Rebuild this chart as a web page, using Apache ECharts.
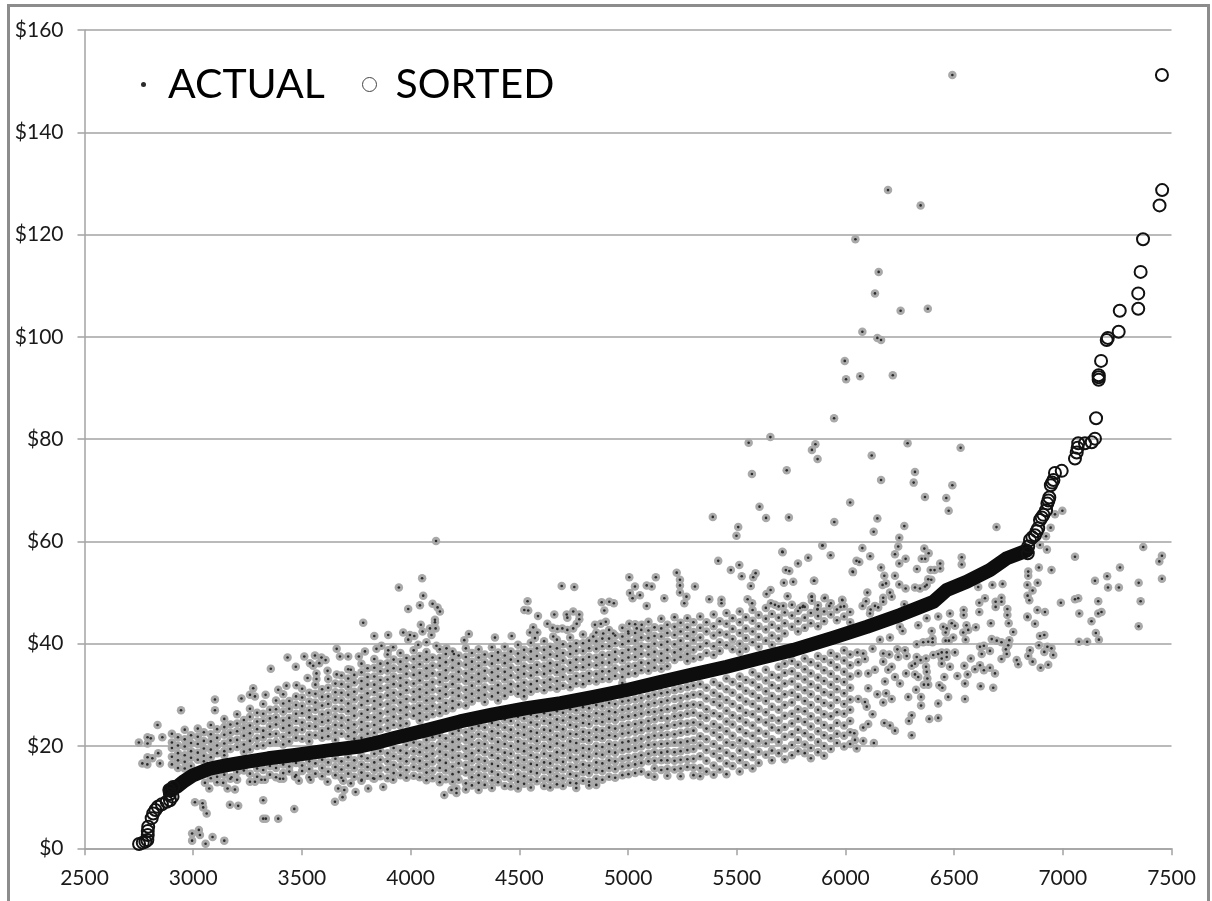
<!DOCTYPE html>
<html>
<head>
<meta charset="utf-8">
<title>Actual vs sorted</title>
<script src="https://cdn.jsdelivr.net/npm/echarts@6/dist/echarts.min.js"></script>
<style>
html, body { margin: 0; padding: 0; background: #fff; overflow: hidden; }
#chart { width: 1212px; height: 901px; }
</style>
</head>
<body>
<div id="chart"></div>
<script>
// values

// dense part of the cloud, one x per column, the y values for that column below
const cloudX = [2902,2930,2961,2990,3021,3049,3081,3110,3143,3171,3202,3233,3261,3294,3322,3353,3381,3414,3442,3473,3501,3534,3562,3593,3621,3654,3682,3713,3741,3774,3802,3833,3861,3894,3922,3953,3981,4014,4042,4073,4101,4134,4162,4193,4221,4254,4282,4313,4341,4374,4402,4433,4461,4494,4522,4553,4581,4614,4642,4673,4701,4734,4762,4793,4821,4854,4882,4913,4941,4974,5002,5033,5061,5094,5122,5153,5181,5214,5242,5273,5301];
const cloudY = [
  [22.4,20.7,19.6,17.9,16.4],
  [21.7,20.1,18.6,17.2,15.7],
  [23.2,21.3,19.9,18.2,16.9,15.6],
  [22.1,20.6,19,17.7,16.1],
  [23.4,21.8,20.4,18.7,17.3],
  [22.7,21,19.5,18.1,17],
  [24.1,22.3,20.9,19.3,17.8,13.7],
  [23.3,21.6,20.1,18.6,14,12.9],
  [25.3,23.7,22.2,20.5,19,18.2,14.4],
  [24.2,22.6,21.1,19.4,13.6],
  [26.2,24.4,22.9,21.2,19.8,14.9,13.4],
  [25.1,23.5,22,20.3,18.9,15.2],
  [27.3,25.7,24,22.5,21,19.3,14.6],
  [26.5,24.8,23.3,21.5,20,15.6,14],
  [28.2,26.3,24.9,23,21.7,20.1,15.3],
  [27.1,25.4,23.8,22.3,20.6,16.1,14.4],
  [28.9,27.2,25.6,24.2,22.4,20.8,15.7,13.9],
  [30.1,28.3,26.7,25,23.5,21.8,20.3,16.4,14.7],
  [28.8,27.3,25.5,24,22.6,20.9,16,15],
  [29.7,28,26.3,24.9,23.1,21.6,16.7,14.3],
  [31.2,29.5,27.8,26.4,24.6,23.2,21.4,16.2,15.1],
  [30.4,28.7,27,25.6,23.9,22.2,20.9,17,15.5,13.9],
  [32,30.2,28.5,27.1,25.3,23.8,22.1,16.6,14.6],
  [31.1,29.6,27.9,26.2,24.7,23,21.6,17.3,15.7,14.1],
  [33.1,31.4,29.7,28.2,26.5,25,23.4,21.9,16.8,15],
  [32.2,30.5,29,27.3,25.7,24.1,22.6,21.2,17.5,15.9,14.3],
  [33.8,32.1,30.4,28.9,27.2,25.5,24,22.4,17,15.4,13.8],
  [35,33.2,31.6,30,28.3,26.8,25.1,23.5,21.9,17.8,16.2,14.6],
  [33.9,32.4,30.6,29.1,27.4,25.9,24.2,22.7,21.4,17.2,15.7,14],
  [36.1,34.4,32.7,31.2,29.5,28,26.3,24.7,23.2,21.6,18,16.4,14.8,13.2],
  [35.2,33.5,32,30.3,28.8,27.1,25.6,23.9,22.4,17.6,15.9,14.2],
  [37,35.3,33.6,32,30.5,28.8,27.3,25.6,24.1,22.6,18.5,16.8,15.3,13.6],
  [36.1,34.6,32.9,31.3,29.6,28.1,26.4,24.9,23.3,19,17.3,15.7,14.1],
  [37.9,36.2,34.7,33,31.4,29.9,28.2,26.7,25,23.5,18.6,17,15.4,13.7],
  [36.9,35.2,33.6,32.1,30.4,28.9,27.2,25.7,24.1,19.6,18,16.3,14.7],
  [38.2,36.5,35,33.3,31.8,30.1,28.5,27,25.4,24,19.1,17.5,15.9,14.3],
  [37.2,35.6,34.1,32.4,30.9,29.2,27.6,26.1,24.4,20.2,18.6,17,15.3,13.8],
  [38.7,37,35.4,33.9,32.2,30.6,29.1,27.4,25.9,20.7,19,17.4,15.9,14.2],
  [37.6,36,34.3,32.8,31.1,29.6,27.9,26.4,25,20.3,18.8,17.1,15.6,13.9],
  [38.4,36.9,35.2,33.7,32,30.4,28.9,27.3,25.7,21.2,19.6,18,16.4,14.8,13.3],
  [37.3,35.7,34.2,32.5,31,29.3,27.8,26.2,21.7,20,18.5,16.9,15.2,13.7],
  [38.9,37.2,35.7,34,32.5,30.8,29.3,27.6,26.4,22,20.4,18.9,17.2,15.7,14,12.9],
  [38,36.4,34.8,33.3,31.6,30.1,28.4,26.9,21.5,19.9,18.3,16.7,15.2,13.5],
  [38.5,36.8,35.3,33.6,32.1,30.4,28.8,27.4,22.4,20.8,19.2,17.7,16,14.5,13],
  [37.7,36.1,34.5,33,31.3,29.8,28.1,23,21.3,19.8,18.1,16.6,14.9,13.4],
  [39.1,37.4,35.9,34.2,32.7,31,29.5,27.9,22.7,21.2,19.5,18,16.3,14.8,12.7,11.5],
  [38.2,36.5,35,33.4,31.8,30.2,28.7,23.4,21.8,20.3,18.6,17.1,15.4,13.9,12.3],
  [38.9,37.3,35.7,34.1,32.6,30.9,29.4,23.9,22.3,20.6,19.1,17.4,15.9,14.3,12.8,11.4],
  [37.9,36.4,34.7,33.2,31.5,30,28.6,23.6,21.9,20.4,18.8,17.1,15.6,14,12.4],
  [39.3,37.6,36.1,34.4,32.9,31.2,29.7,24.5,22.9,21.4,19.7,18.2,16.5,15,13.3,11.8],
  [38.3,36.8,35.1,33.6,31.9,30.4,28.9,24.1,22.5,20.8,19.3,17.6,16.1,14.4,12.9],
  [39.4,37.7,36.2,34.5,33,31.3,29.8,25.2,23.6,21.9,20.4,18.7,17.2,15.6,14,12.2],
  [38.5,36.9,35.3,33.8,32.1,30.6,24.9,23.2,21.7,20,18.5,16.8,15.3,13.6,12.1],
  [39.8,38.1,36.6,34.9,33.4,31.7,30.2,25.7,24.1,22.5,20.9,19.4,17.7,16.2,14.5,13,11.7],
  [38.8,37.3,35.6,34.1,32.4,30.9,29.7,25.4,23.7,22.2,20.5,19,17.3,15.8,14.1,12.6],
  [40.2,38.5,37,35.3,33.8,32.1,30.6,26.1,24.6,22.9,21.4,19.7,18.2,16.5,15,13.4,11.9],
  [39.1,37.6,35.9,34.4,32.7,31.2,25.8,24.2,22.6,21,19.5,17.8,16.3,14.7,13.1],
  [40.5,38.8,37.3,35.6,34.1,32.4,30.9,26.4,24.9,23.2,21.7,20,18.5,16.8,15.3,13.6,12.2],
  [39.4,37.9,36.2,34.7,33,31.5,26.1,24.5,23,21.3,19.8,18.1,16.6,14.9,13.4,11.9],
  [40.8,39.1,37.6,35.9,34.4,32.7,31.2,26.8,25.2,23.7,22,20.5,18.8,17.3,15.6,14.1,12.5],
  [39.9,38.2,36.7,35,33.5,31.8,26.5,25,23.3,21.8,20.1,18.6,16.9,15.4,13.7,12.2],
  [41.2,39.5,38,36.3,34.8,33.1,31.5,27.2,25.6,24.1,22.4,20.9,19.2,17.7,16,14.5,12.8],
  [40.1,38.6,36.9,35.4,33.7,32.2,27,25.4,23.8,22.3,20.6,19.1,17.4,15.9,14.2,12.7,11.8],
  [41.8,40.1,38.6,36.9,35.4,33.7,32.1,27.6,26,24.5,22.8,21.3,19.6,18.1,16.4,14.9,13.2],
  [40.6,39.1,37.4,35.9,34.2,32.7,27.4,25.8,24.3,22.6,21.1,19.4,17.9,16.2,14.7,13,12.3],
  [42.2,40.5,39,37.3,35.8,34.1,32.6,28,26.4,24.9,23.2,21.7,20,18.5,16.8,15.3,13.6,12.4],
  [41,39.5,37.8,36.3,34.6,33.1,27.8,26.2,24.7,23,21.5,19.8,18.3,16.6,15.1,13.4],
  [42.7,41,39.5,37.8,36.3,34.6,33.1,28.4,26.8,25.3,23.6,22.1,20.4,18.9,17.2,15.7,14],
  [41.6,40.1,38.4,36.9,35.2,33.7,28.2,26.6,25.1,23.4,21.9,20.2,18.7,17,15.5,13.8],
  [43.1,41.4,39.9,38.2,36.7,35,33.5,32.3,28.7,27.1,25.6,23.9,22.4,20.7,19.2,17.5,16,14.3],
  [42,40.5,38.8,37.3,35.6,34.1,28.9,27.3,25.8,24.1,22.6,20.9,19.4,17.7,16.2,14.5],
  [43.8,42.1,40.6,38.9,37.4,35.7,34.2,29.1,27.5,26,24.3,22.8,21.1,19.6,17.9,16.4,14.7],
  [42.7,41.2,39.5,38,36.3,34.8,29.4,27.8,26.3,24.6,23.1,21.4,19.9,18.2,16.7,15],
  [44.3,42.6,41.1,39.4,37.9,36.2,34.7,29.7,28.1,26.6,24.9,23.4,21.7,20.2,18.5,17,14.4],
  [43.2,41.5,40,38.4,36.8,35.3,30,28.4,26.7,25.2,23.5,22,20.3,18.8,17.1,15.6,14],
  [44.9,43,41.4,39.8,38.1,36.7,35.1,30.3,28.6,27,25.5,23.6,22.1,20.4,18.7,17.2,15.3],
  [43.7,42.1,40.4,38.8,37.2,35.6,30.5,28.9,27.2,25.4,23.9,22.2,20.5,18.9,17.2,15.5,14.2],
  [45.2,43.3,41.7,39.9,38.3,36.8,30.9,29.2,27.4,25.8,24.1,22.3,20.7,18.8,17.1,15.4],
  [44.1,42.4,40.6,38.9,37.4,31.2,29.4,27.8,26,24.4,22.6,20.7,19,17.3,15.6,14.1],
  [45,43.2,41.5,39.6,38,36.6,31.5,29.7,27.9,26.3,24.4,22.8,20.9,19.2,17.4,15.9],
  [44.2,42.3,40.7,38.8,37.1,31.8,30,28.1,26.5,24.6,23,21.1,19.4,17.5,15.8,14.3]
];

// sparser right side of the cloud
const sparseX = [5332,5361,5394,5422,5453,5481,5514,5542,5573,5601,5634,5662,5693,5721,5754,5782,5813,5841,5874,5902,5933,5961,5994,6022];
const sparseY = [
  [45.3,43.1,41.2,39.4,37.4,32.1,30.1,28,25.9,24.2,21.9,20.1,18,15.7,14.1],
  [44.2,42.4,40.1,38.2,31.4,29.3,27.2,25.5,23.4,21.3,19.2,17.1,15],
  [45.7,43.4,41.6,39.5,37.8,32.5,30.4,28.6,26.4,24.3,22.6,20.4,18.5,16.2,14.4],
  [44.4,42.2,40.3,38.6,31.8,29.7,27.9,25.8,23.6,21.7,19.5,17.6,15.4],
  [46,43.9,41.8,39.7,33.2,31.1,29,26.9,24.8,22.9,20.7,18.7,16.6,14.5],
  [45,42.9,40.9,38.9,32.5,30.4,28.2,26,24.2,22,20.2,18,16.1],
  [46.3,44.2,42.1,40,38.4,33.6,31.7,29.5,27.4,25.4,23.3,21.1,19.1,17.2,15],
  [45.2,43,41.1,39,32.9,30.8,28.7,26.5,24.6,22.5,20.5,18.3,16.3],
  [46.6,44.5,42.4,40.3,34.4,32.4,30.2,28.2,26.2,24,22,19.9,17.8,15.6],
  [45.6,43.4,41.3,39.4,33.6,31.5,29.4,27.3,25.2,23,21,18.9,16.7],
  [47,44.9,42.8,40.6,34.9,32.8,30.7,28.8,26.6,24.6,22.4,20.5,18.3],
  [45.8,43.7,41.6,39.8,33.9,31.9,29.8,27.7,25.5,23.6,21.3,19.1,17.2],
  [47.3,45.1,43,41,35.5,33.4,31.3,29.2,27.1,25,23.1,20.8,18.6],
  [46.1,44,42,36.1,34.3,32.2,30.1,28,25.9,23.7,21.8,19.5,17.4],
  [47.6,45.5,43.3,36.6,34.6,32.6,30.4,28.5,26.3,24.4,22.3,20.2,18.2],
  [46.4,44.4,42.4,35.9,33.7,31.6,29.6,27.2,25.3,23.2,21.2,19],
  [47.2,45.1,43.1,37.1,35,33,30.9,28.8,26.8,24.7,22.5,20.3,18.6],
  [46,44,36.4,34.2,32.1,30.1,28,25.8,23.8,21.7,19.6,17.6],
  [47.5,45.4,43.4,37.6,35.7,33.4,31.4,29.2,27.1,25,22.9,20.8,18.8],
  [46.3,44.4,37,34.8,32.7,30.5,28.4,26.2,24.1,22.1,20,18.1],
  [47.9,45.7,38.2,36.3,34.1,32,30,27.9,25.8,23.5,21.5,19.4],
  [46.7,44.6,37.5,35.4,33.1,31.1,29,26.6,24.5,22.4,20.6],
  [47.3,45.3,38.7,36.7,34.5,32.5,30.3,28.2,26.3,24,22,19.9],
  [46.2,44.2,37.9,35.8,33.6,31.4,29.1,27.1,24.9,22.7,20.4]
];

// single points, each one read on its own
const actualPoints = [
  [6492,151.2],[6196,128.7],[6346,125.7],[6046,119.1],[6153,112.7],[6136,108.5],[6254,105.1],[6379,105.5],[6078,101],[6147,99.8],[6164,99.4],[5997,95.3],[6003,91.7],[6068,92.3],[6218,92.5],[5948,84.1],
  [5862,79],[5846,77.9],[5872,76.1],[6286,79.2],[6121,76.8],[6530,78.3],[6320,73.6],[6314,71.5],[6164,72],[6492,71],[6366,68.7],[6464,68.5],[6022,67.6],[6475,66],[6147,64.5],[5949,63.8],[6271,63],[6695,62.8],[6130,61.9],[6248,60.7],
  [5894,59.2],[6078,58.7],[6243,59],[6363,58.6],[6383,57.7],[5829,56.8],[5932,57.3],[6114,57.1],[6228,57.5],[6277,56.6],[6351,56.6],[6367,56.6],[6535,56.9],[6535,55.5],[6064,56],[6248,55.7],[6436,55.7],[6436,54.7],[6164,54.9],[6329,54.6],[6392,54.4],[6410,54.4],[6228,53.3],[6179,53.3],[6035,54],[6381,52.6],[6395,52.5],[5855,52.3],[6187,51.8],[6171,51.5],[6248,51.6],[6374,51.5],[6277,50.8],[6320,51],[6343,50.8],[6366,51.2],[6101,50],[6205,50],[6213,49.2],[6174,49],[5846,49.2],[5846,48.4],[5904,48.9],[5986,48.5],[6174,48.2],[6095,48.3],[6079,47.4],[6136,47.4],[6151,47.1],[6116,46.7],[5978,47.2],[5926,47.4],[5871,46.7],[5803,47.2],[6271,47.7],[6113,45.9],
  [6616,48],[6642,48.9],[6718,49],[6691,48.2],[6718,48.2],[6691,47.2],[6745,46.8],[6616,46.2],[6544,46.6],[6544,45.6],[6481,45.9],[6427,45.3],[6374,45],[6745,45.6],[6837,45.3],[6883,46.6],[6918,46.2],
  [6611,51.1],[6676,51.5],[6723,51.7],[6837,51.5],[6884,51.9],[6841,54.1],[6841,53.3],[6890,54.9],[6948,54.4],[6861,50.4],[6838,49.4],[6846,48.5],[6991,48],[7056,48.7],[7071,48.9],[7076,45.9],[7132,44.4],[7163,45.9],[7178,46.2],[7163,48.3],[7148,52.3],[7204,53.2],[7208,51],[7258,51],[7263,54.9],[7349,51.9],[7358,48.3],[7349,43.4],[7370,58.9],[7456,57.2],[7444,56.1],[7456,52.7],[7056,57],
  [6927,58.4],[6923,61],[6944,62.7],[6964,65.3],[6998,66],[6895,59.3],[6838,45.2],[6872,43.9],[6751,44],[6669,44],[6772,42.3],[6895,41.5],[6915,41.7],[6754,40.7],[6673,40.9],[6696,40.6],[6718,40.3],[6749,39.7],[6738,38.9],[6849,38.7],[6890,39.7],[6929,39.4],[6948,39.1],[6915,38.4],[6841,37.6],[6861,36.5],[6956,37.8],[6933,35.9],[6898,35.3],[6788,36.8],[6795,36],[6718,37],[6742,38],[7074,40.4],[7112,40.4],[7166,40.8],[7152,42.1],
  [6600,43.2],[6557,43.6],[6565,42.7],[6542,42.2],[6553,40.8],[6466,43],[6489,44],[6504,43.5],[6450,43.3],[6461,42.2],[6496,41.2],[6476,40.6],[6461,40.6],[6397,42.5],[6401,41],[6401,40.3],[6381,40.4],[6358,40.3],[6328,39.9],[6335,43.6],[6251,43.3],[6263,42.5],[6205,41.2],[6159,40.8],
  [6619,39.4],[6637,39.6],[6665,38.6],[6504,38.3],[6627,38],[6466,38.3],[6443,38.3],[6427,38],[6404,37.8],[6466,37.4],[6443,37.1],[6371,37.1],[6346,36.8],[6328,37.4],[6282,37.6],[6274,38.7],[6239,38.9],[6243,37.4],[6202,37.9],[6174,38.1],[6125,39],[6082,38.1],[6055,38.3],
  [6577,37.1],[6481,35.5],[6443,36.1],[6371,35.5],[6320,36.1],[6305,35.7],[6374,34.5],[6279,34.2],[6320,34],[6335,33.5],[6377,33.2],[6213,35.5],[6174,36.5],[6197,34.9],[6136,34.9],[6105,34.2],[6059,34.2],[6547,35.7],[6562,34],[6596,35],[6619,35.8],[6637,34.8],[6665,35.3],[6688,34.2],[6515,33.7],[6455,33.5],[6432,31.9],[6446,31.4],[6550,32.2],[6622,31.7],[6680,31.4],[6361,32],[6381,32],[6325,31],[6251,32.2],[6228,33.5],[6182,32.6],[6105,31.3],[6059,36.4],[6090,37],
  [6473,29.6],[6550,29.2],[6348,29.6],[6289,29.6],[6213,29.2],[6187,30.3],[6147,30.1],[6174,28.5],[6059,29.2],[6348,27.9],[6427,28.3],[6098,27.7],[6090,28.6],[6125,26.2],[6305,26],[6292,24.9],[6386,25.3],[6427,25.5],[6105,24.3],[6179,24.5],[6205,24],[6228,23],[6082,23.6],[6305,22.1],[6041,22.5],[6082,21],[6131,20.6],[6044,21.2],[6052,19.5],
  [4695,51.3],[4753,51.1],[4538,48.3],[4523,46.6],[4541,46.5],[4586,45.4],[4661,45.7],[4718,45.7],[4748,46.3],[4776,45.7],[4776,44.8],[4721,45.1],[4764,43.9],[4748,43],[4721,42.7],[4698,43],[4675,42.9],[4653,43.1],[4629,43.9],[4564,43.2],[4549,42.2],[4583,42.2],[4572,41.1],[4656,41.4],[4465,41.5],[4388,41.2],[4268,41.9],[4247,40.7],
  [5006,53],[5032,51.2],[5009,49.9],[5021,48.9],[5055,49.5],[5086,51.4],[5109,51.2],[5128,53],[5224,53.9],[5239,52.5],[5239,51.4],[5308,51.2],[5239,50],[5269,49.2],[5259,47.9],[5167,48.9],[5086,47.4],[4879,48.1],[4914,48.2],[4935,47.9],[4891,46.5],[4898,44.3],[4848,43.7],[4875,43.9],[4886,42],[5006,43.9],[5040,43],[5063,43.7],[5001,42.4],[4932,42],[4840,41.4],
  [5374,48.7],[5430,48.6],[5430,47.9],[5415,56.2],[5473,54.4],[5512,55.4],[5523,53.2],[5576,53],[5587,53.8],[5565,51.3],[5507,62.8],[5499,61.1],[5711,57.9],[5895,59.2],[5782,55.7],[5726,54.4],[5742,54.2],[5857,52.3],[5717,51.9],[5760,52.1],[6033,54.1],[6051,56.2],[5656,50.5],[5637,49.7],[5734,49.3],[5550,48.7],[5571,47.9],[5657,47.9],[5676,47.6],[5714,47.4],[5844,49.2],[5906,49],[5985,48.6],[5791,47],[5806,47.4],[5872,46.8],[5390,64.8],[5555,79.3],[5570,73.2],[5655,80.4],[5605,66.8],[5635,64.6],[5730,73.9],[5740,64.7],[5710,58],
  [4117,60.1],[4053,52.8],[3946,51],[4058,49.4],[3989,46.8],[4043,47.5],[4101,47.8],[4124,47.1],[4135,46.3],[4112,44.7],[4112,44.2],[3782,44.1],[4047,43.7],[4089,43],[4115,43],[4055,42.4],[3966,42.2],[3997,41.7],[4017,41.5],[4096,41.7],[3897,41.7],[3833,41.5],[3989,40.8],[4073,40.3],[4035,39.8],[4119,39.6],[4165,39.1],[3866,39.6],[3660,39],[3843,39],[3920,39.3],[3790,38.5],[3897,38.7],[4199,38],[3762,37.5],[3713,37.5],[3675,37.5],[3560,37.7],[3511,37.5],[3434,37.3],[3590,37.3],[3609,36.8],[3537,36.2],[3580,36.2],[3552,35.7],[3472,35.5],[3357,35.1],[3618,34.7],[3725,34.9],[3660,34],[3567,34.2],[3526,33.3],[3567,33.1],[3475,31.9],[3429,31.8],[3391,31],[3276,31.3],[3261,30],[3284,29.7],[3222,29.3],[3333,30],[3100,29.1],[3100,27],[2944,27],[2836,24.1],[2750,20.7],[2790,21.7],[2805,21.5],[2790,20.5],[2858,21.7],[2766,16.6],[2789,16.4],[2790,17.8],[2812,17.6],[2847,16.6],[2839,18.6],
  [3008,9],[3043,8.8],[3046,8],[3062,6.8],[2995,2.9],[3026,3.6],[3031,2.6],[2995,1.5],[3057,0.9],[3089,2.2],[3143,1.5],[3169,8.5],[3207,8.3],[3322,9.4],[3322,5.8],[3334,5.8],[3391,5.8],[3465,7.7],[3652,9.1],[3687,10],[3667,11.7],[3695,11.4],[3747,11],[3805,11.7],[3874,12],[3920,13.4],[4155,10.4],[4188,11.4],[4211,10.8],[4211,11.7],[3074,11.7],[3138,12.8],[3158,11.7],[3192,11.5],[3176,13.9],[3054,12.8],[3261,13],[3284,13],[3314,13.4],[3330,13.4],[3399,13.6],[3414,13.6],[3468,14],[3486,13.2],[3540,13.4],[3618,13],[3690,13.2],[3725,12.7],[3775,13.4],[3828,13.7]
];

// sorted curve: open rings at both ends
const sortedRings = [
  [2751,0.84],[2768,1.1],[2780,1.3],[2789,1.6],[2791,2.6],[2791,3.4],[2793,4.2],[2809,5.9],[2816,6.8],[2826,7.5],[2837,8.1],[2856,8.6],[2878,9.1],[2893,9.4],[2905,10.1],[2890,11.4],[2893,10.6],[2908,12],
  [6839,57.7],[6841,59],[6849,60.3],[6860,60.8],[6872,61.2],[6880,62],[6887,62.6],[6895,64.2],[6903,64.7],[6911,65.2],[6923,66.1],[6929,67.4],[6934,68],[6938,68.6],[6945,71],[6951,71.5],[6957,72],[6964,73.4],[6995,73.8],
  [7056,76.2],[7064,77.4],[7068,78.3],[7071,79.2],[7102,79.2],[7133,79.4],[7148,80.1],[7153,84.1],[7165,91.6],[7165,92.1],[7165,92.5],[7176,95.3],[7202,99.4],[7207,99.8],[7257,101],[7262,105.1],[7347,105.5],[7347,108.5],[7358,112.7],[7369,119.1],[7445,125.7],[7457,128.7],[7456,151.2]
];
// where the rings overlap into a solid band
const sortedBand = [
  [2893,11.3],[2924,12],[2960,13.2],[3000,14.3],[3077,15.6],[3150,16.2],[3230,16.8],[3345,17.6],[3460,18.2],[3614,19.1],[3767,19.9],[3840,20.6],[3920,21.5],[4074,23.1],[4227,24.8],[4380,26.2],[4534,27.4],[4690,28.4],[4841,29.6],[5000,31],[5147,32.5],[5300,34],[5454,35.5],[5610,37.2],[5761,38.8],[5945,41.2],[6098,43.3],[6251,45.6],[6405,48.2],[6466,50.5],[6558,52.1],[6665,54.4],[6742,56.7],[6834,58.2]
];

const actual = actualPoints.slice();
cloudX.forEach((x, i) => cloudY[i].forEach(y => actual.push([x, y])));
sparseX.forEach((x, i) => sparseY[i].forEach(y => actual.push([x, y])));

const chart = echarts.init(document.getElementById('chart'), null, { renderer: 'canvas' });
const lineColor = '#a3a3a3';
const labelFont = 'Lato, "Noto Sans", sans-serif';

chart.setOption({
  animation: false,
  backgroundColor: '#fff',
  textStyle: { fontFamily: labelFont },
  graphic: [{
    type: 'rect',
    silent: true,
    shape: { x: 8.5, y: 5.5, width: 1200, height: 1000 },
    style: { fill: 'transparent', stroke: '#8c8c8c', lineWidth: 3 }
  }],
  grid: { left: 84.5, right: 40.5, top: 30, bottom: 52.7 },
  xAxis: {
    type: 'value', min: 2500, max: 7500, interval: 500,
    splitLine: { show: false },
    axisLine: { onZero: false, lineStyle: { color: lineColor, width: 1.5 } },
    axisTick: { length: 7, lineStyle: { color: lineColor, width: 1.5 } },
    axisLabel: { color: '#1a1a1a', fontSize: 21, margin: 19, fontFamily: labelFont, formatter: v => String(v) }
  },
  yAxis: {
    type: 'value', min: 0, max: 160, interval: 20,
    splitLine: { lineStyle: { color: lineColor, width: 1.5 } },
    axisLine: { show: true, lineStyle: { color: lineColor, width: 1.5 } },
    axisTick: { show: true, length: 7, lineStyle: { color: lineColor, width: 1.5 } },
    axisLabel: { color: '#1a1a1a', fontSize: 21, margin: 21, fontFamily: labelFont, formatter: v => '$' + v }
  },
  legend: [{
    data: [{ name: 'ACTUAL', icon: 'circle' }],
    left: 141, top: 64, padding: 0, itemWidth: 5, itemHeight: 5, itemGap: 0,
    textStyle: { fontSize: 41, color: '#000', padding: [0, 0, 0, 17], fontFamily: labelFont }
  }, {
    data: [{ name: 'SORTED', icon: 'circle', itemStyle: { color: 'transparent', borderColor: '#444', borderWidth: 1 } }],
    left: 362, top: 64, padding: 0, itemWidth: 14, itemHeight: 14, itemGap: 0,
    textStyle: { fontSize: 41, color: '#000', padding: [0, 0, 0, 14], fontFamily: labelFont }
  }],
  series: [{
    name: 'halo', type: 'scatter', data: actual, symbolSize: 8.5, silent: true, z: 2,
    itemStyle: { color: '#a9a9a9', opacity: 1 }
  }, {
    name: 'ACTUAL', type: 'scatter', data: actual, symbolSize: 2.6, silent: true, z: 3,
    itemStyle: { color: '#2b2b2b', opacity: 1 }
  }, {
    name: 'sortedBand', type: 'line', data: sortedBand, showSymbol: false, silent: true, z: 4,
    lineStyle: { color: '#0d0d0d', width: 14, cap: 'round', join: 'round' }
  }, {
    name: 'SORTED', type: 'scatter', data: sortedRings, symbolSize: 12, silent: true, z: 5,
    itemStyle: { color: 'transparent', borderColor: '#111', borderWidth: 2, opacity: 1 }
  }]
});
</script>
</body>
</html>
